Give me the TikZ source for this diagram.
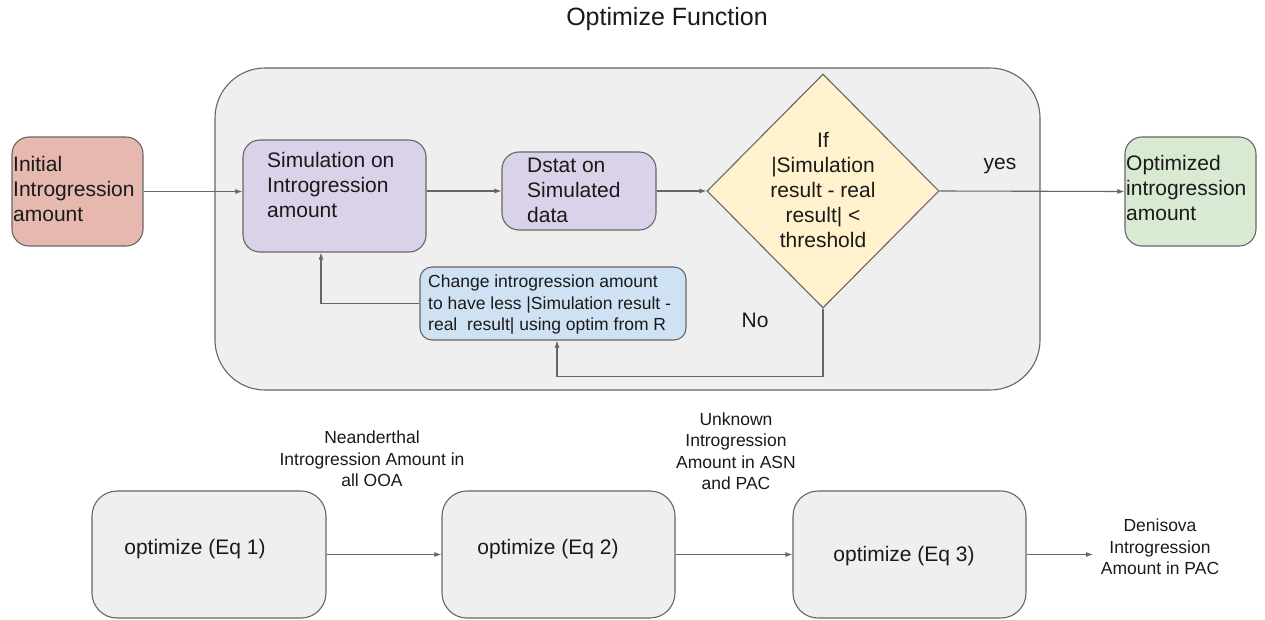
\documentclass[tikz,border=0pt]{standalone}
\usepackage{fontspec}
\setmainfont{Liberation Sans}
\usetikzlibrary{shapes.geometric,arrows.meta}
\definecolor{edgegray}{HTML}{666666}
\definecolor{panelgray}{HTML}{EFEFEF}
\definecolor{initred}{HTML}{E6B8AF}
\definecolor{simpurple}{HTML}{D9D2E9}
\definecolor{decyellow}{HTML}{FFF2CC}
\definecolor{optgreen}{HTML}{D9EAD3}
\definecolor{chgblue}{HTML}{CFE2F3}
\definecolor{txt}{HTML}{1A1A1A}
\begin{document}
\begin{tikzpicture}[x=1pt,y=-1pt,
  rbox/.style={draw=edgegray,line width=1.1pt,rounded corners=#1,inner sep=0pt,shape=rectangle},
  rbox/.default=17pt,
  bigtxt/.style={font=\fontsize{21}{25}\selectfont,text=txt,inner sep=0pt},
  smalltxt/.style={font=\fontsize{17.5}{21.5}\selectfont,text=txt,inner sep=0pt},
  conn/.style={draw=edgegray,line width=1.1pt,-{Latex[length=7pt,width=5pt]}},
  plain/.style={draw=edgegray,line width=1.1pt}]
\useasboundingbox (0,0) rectangle (1265,619);

% title
\node[text=txt,inner sep=0pt,font=\fontsize{25}{29}\selectfont] (title) at (667,19) {Optimize Function};

% big panel
\node[rbox=50pt,fill=panelgray,minimum width=825pt,minimum height=322pt] (panel) at (627.5,229) {};

% boxes
\node[rbox,fill=initred,minimum width=131pt,minimum height=109pt] (init) at (77.5,191.5) {};
\node[rbox,fill=simpurple,minimum width=183pt,minimum height=112pt] (sim) at (334.5,196) {};
\node[rbox,fill=simpurple,minimum width=154pt,minimum height=78pt] (dstat) at (579,191) {};
\node[draw=edgegray,line width=1.1pt,fill=decyellow,shape=diamond,inner sep=0pt,minimum width=232pt,minimum height=234pt] (dia) at (823,191) {};
\node[rbox,fill=optgreen,minimum width=131pt,minimum height=109pt] (opt) at (1190.5,191.5) {};
\node[rbox=12pt,fill=chgblue,minimum width=266pt,minimum height=73pt] (chg) at (553,303.5) {};

\node[rbox=25pt,fill=panelgray,minimum width=234pt,minimum height=127pt] (eq1) at (209,554.5) {};
\node[rbox=25pt,fill=panelgray,minimum width=233pt,minimum height=127pt] (eq2) at (558.5,554.5) {};
\node[rbox=25pt,fill=panelgray,minimum width=233pt,minimum height=127pt] (eq3) at (909.5,554.5) {};

% texts
\node[bigtxt,anchor=west,align=left] (inittxt) at (13,189) {Initial\\Introgression\\amount};
\node[bigtxt,anchor=west,align=left] (simtxt) at (267,185) {Simulation on\\Introgression\\amount};
\node[bigtxt,anchor=west,align=left] (dstattxt) at (527,190) {Dstat on\\Simulated\\data};
\node[bigtxt,align=center] (diatxt) at (823,190) {If\\|Simulation\\result - real\\result| <\\threshold};
\node[bigtxt] (yes) at (1000,166) {yes};
\node[bigtxt,anchor=west,align=left] (opttxt) at (1126,187.5) {Optimized\\introgression\\amount};
\node[smalltxt,anchor=west,align=left] (chgtxt) at (428,305) {Change introgression amount\\to have less |Simulation result -\\real\ \ result| using optim from R};
\node[bigtxt] (no) at (755,320) {No};

\node[bigtxt] (eq1txt) at (195,549) {optimize (Eq 1)};
\node[bigtxt] (eq2txt) at (548,549) {optimize (Eq 2)};
\node[bigtxt] (eq3txt) at (904,556) {optimize (Eq 3)};

\node[smalltxt,align=center] (neand) at (372,459) {Neanderthal\\Introgression Amount in\\all OOA};
\node[smalltxt,align=center] (unk) at (736,451) {Unknown\\Introgression\\Amount in ASN\\and PAC};
\node[smalltxt,align=center] (deni) at (1160,547) {Denisova\\Introgression\\Amount in PAC};

% connectors
\draw[conn] (init.east) -- (init.east -| sim.west);
\draw[conn] (sim.east |- dstat.west) -- (dstat.west);
\draw[conn] (dstat.east) -- (dia.west);
\draw[conn] (dia.east) -- (opt.west);
\draw[conn] (chg.west) -| ([xshift=-13.5pt]sim.south);
\draw[conn] (dia.south) -- ++(0,68) -| ([xshift=4pt]chg.south);

\coordinate (denin) at (1093,554.5);
\draw[conn] (eq1.east) -- (eq2.west);
\draw[conn] (eq2.east) -- (eq3.west);
\draw[conn] (eq3.east) -- (denin);
\end{tikzpicture}
\end{document}
